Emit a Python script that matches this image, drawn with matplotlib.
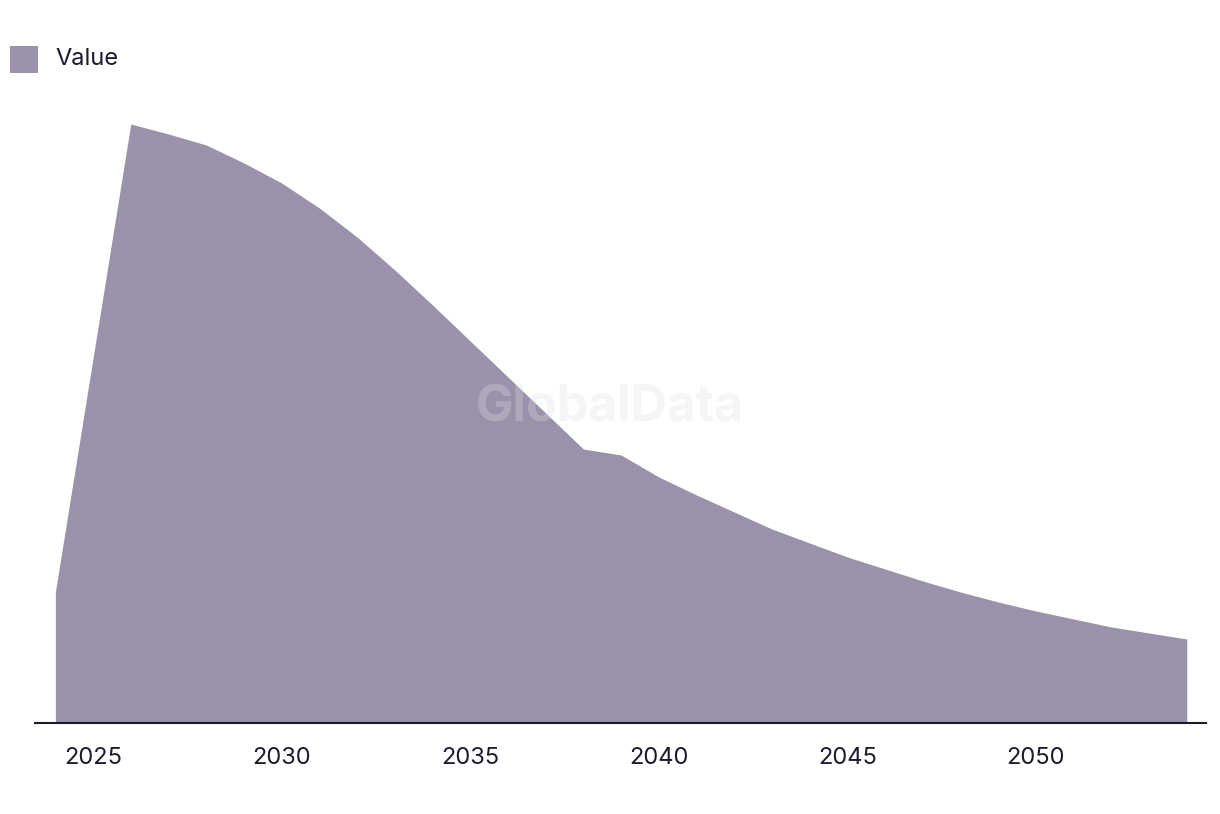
import matplotlib
matplotlib.use("Agg")
import matplotlib.pyplot as plt
from matplotlib.patches import Rectangle

years = list(range(2024, 2055))
values = [131, 365, 599, 589, 578, 560, 540, 515, 486, 453,
          418, 382, 346, 310, 274, 268, 246, 228, 211, 194,
          180, 166, 154, 142, 131, 121, 112, 104, 96, 90, 84]
tick_years = [2025, 2030, 2035, 2040, 2045, 2050]
legend_label = "Value"

fill_col = "#9a91aa"
text_col = "#1b1a2e"

plt.rcParams['font.family'] = ['Inter', 'DejaVu Sans']

W, H = 1220, 814
fig = plt.figure(figsize=(W / 100, H / 100), dpi=100)
ax = fig.add_axes([35 / W, (H - 723) / H, 1171 / W, 623 / H])

ax.fill_between(years, values, 0, color=fill_col, linewidth=0)
ax.set_xlim(2023.46, 2054.51)
ax.set_ylim(0, 623)

for s in ["top", "right", "left"]:
    ax.spines[s].set_visible(False)
ax.spines["bottom"].set_color(text_col)
ax.spines["bottom"].set_linewidth(1.5)
ax.set_yticks([])
ax.set_xticks(tick_years)
ax.set_xticklabels([str(y) for y in tick_years])
ax.tick_params(axis="x", length=0, pad=17.5, labelsize=17, labelcolor=text_col)

# faint watermark
fig.text(0.5, 1 - 408 / H, "GlobalData", ha="center", va="center",
         fontsize=36, fontweight="bold", color="#e0e0e0", alpha=0.3)

# legend drawn by hand (square swatch + label)
fig.patches.append(Rectangle((10 / W, 1 - 73 / H), 28 / W, 27 / H,
                             transform=fig.transFigure, facecolor=fill_col,
                             edgecolor="none"))
fig.text(55 / W, 1 - 59 / H, legend_label, ha="left", va="center",
         fontsize=17, color=text_col)

fig.savefig("out.png", dpi=100)
